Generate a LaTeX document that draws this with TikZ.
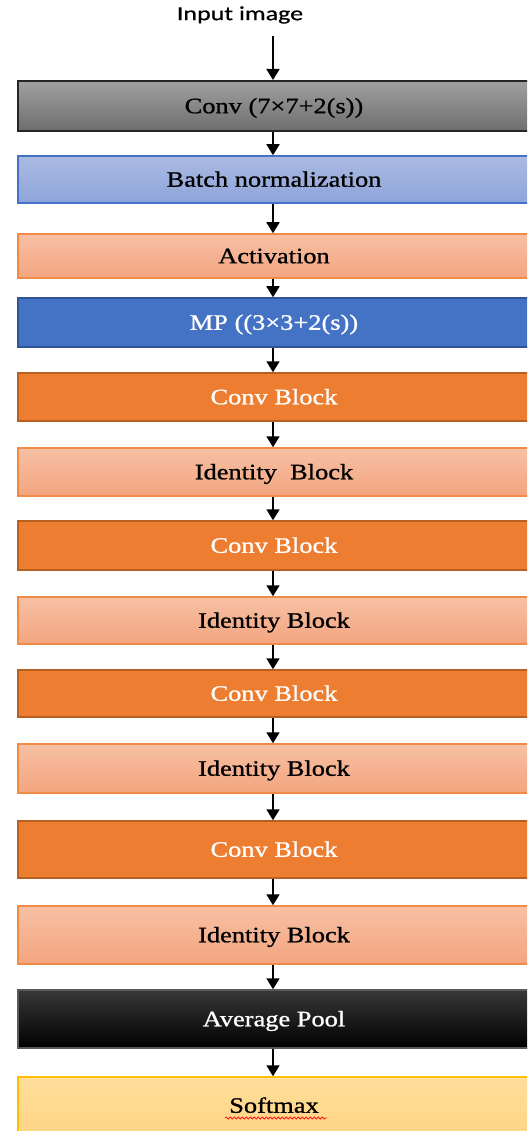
\documentclass[tikz,border=0pt]{standalone}
\usepackage{fontspec}
\setmainfont{Liberation Serif}
\newfontfamily\boxfont[FakeStretch=1.2,FakeBold=1]{Liberation Serif}
\newfontfamily\inpfont[FakeStretch=1.3,FakeBold=0.6]{Carlito}
\usetikzlibrary{arrows.meta,decorations.pathmorphing}
\definecolor{cbfill}{HTML}{ED7D31}
\definecolor{cbline}{HTML}{B85F22}
\definecolor{idtop}{HTML}{F7C0A4}
\definecolor{idbot}{HTML}{F3A57F}
\definecolor{idline}{HTML}{F08A47}
\definecolor{bntop}{HTML}{AAB9E2}
\definecolor{bnbot}{HTML}{8EA5DA}
\definecolor{bnline}{HTML}{4472C4}
\definecolor{mpfill}{HTML}{4472C4}
\definecolor{mpline}{HTML}{2F5597}
\definecolor{gtop}{HTML}{A0A0A0}
\definecolor{gbot}{HTML}{6E6E6E}
\definecolor{gline}{HTML}{262626}
\definecolor{sftop}{HTML}{FFDD9A}
\definecolor{sfbot}{HTML}{FFD585}
\definecolor{sfline}{HTML}{FFC000}
\tikzset{
  box/.style={rectangle, minimum width=512pt, inner sep=0pt, line width=1.5pt,
    font=\boxfont\fontsize{22}{24}\selectfont, text height=14.5pt, text depth=0pt},
  graybox/.style={box, top color=gtop, bottom color=gbot, draw=gline, line width=2pt},
  bnbox/.style={box, top color=bntop, bottom color=bnbot, draw=bnline},
  idbox/.style={box, top color=idtop, bottom color=idbot, draw=idline},
  mpbox/.style={box, fill=mpfill, draw=mpline, text=white},
  cbbox/.style={box, fill=cbfill, draw=cbline, text=white},
  avgbox/.style={box, top color=black!78, bottom color=black, draw=black!65, text=white},
  sfbox/.style={box, top color=sftop, bottom color=sfbot, draw=sfline},
  arr/.style={line width=1.8pt, -{Triangle[width=13pt,length=11pt]}},
}
\begin{document}
\begin{tikzpicture}[x=1pt,y=-1pt]
\useasboundingbox (0,0) rectangle (527,1131);
\clip (0,0) rectangle (527,1131);
\node[font=\inpfont\fontsize{20}{22}\selectfont] (in) at (240,15) {Input image};
\coordinate (inarr) at (273,36);
\node[graybox, minimum height=50pt] (conv) at (274,106) {Conv (7×7+2(s))};
\node[bnbox, minimum height=47pt] (bn) at (274,179.5) {Batch normalization};
\node[idbox, minimum height=44pt] (act) at (274,256) {Activation};
\node[mpbox, minimum height=49pt] (mp) at (274,322.5) {MP ((3×3+2(s))};
\node[cbbox, minimum height=48pt] (cb1) at (274,397) {Conv Block};
\node[idbox, minimum height=48pt] (id1) at (274,472) {Identity\ \ Block};
\node[cbbox, minimum height=49pt] (cb2) at (274,545.5) {Conv Block};
\node[idbox, minimum height=47pt] (id2) at (274,620.5) {Identity Block};
\node[cbbox, minimum height=47pt] (cb3) at (274,693.5) {Conv Block};
\node[idbox, minimum height=49pt] (id3) at (274,768.5) {Identity Block};
\node[cbbox, minimum height=57pt] (cb4) at (274,849.5) {Conv Block};
\node[idbox, minimum height=58pt] (id4) at (274,935) {Identity Block};
\node[avgbox, minimum height=58pt] (avg) at (274,1019) {Average Pool};
\node[sfbox, minimum height=57pt] (soft) at (274,1105.5) {Softmax};
\draw[red!90, line width=0.8pt, decorate, decoration={snake, amplitude=1pt, segment length=4pt}]
  ([xshift=-49pt,yshift=-12.5pt]soft.center) -- ([xshift=53pt,yshift=-12.5pt]soft.center);
\draw[arr] (inarr) -- (inarr |- conv.north);
\foreach \a/\b in {conv/bn, bn/act, act/mp, mp/cb1, cb1/id1, id1/cb2, cb2/id2, id2/cb3, cb3/id3, id3/cb4, cb4/id4, id4/avg, avg/soft}
  \draw[arr] ([xshift=-1pt]\a.south) -- ([xshift=-1pt]\b.north);
\end{tikzpicture}
\end{document}
